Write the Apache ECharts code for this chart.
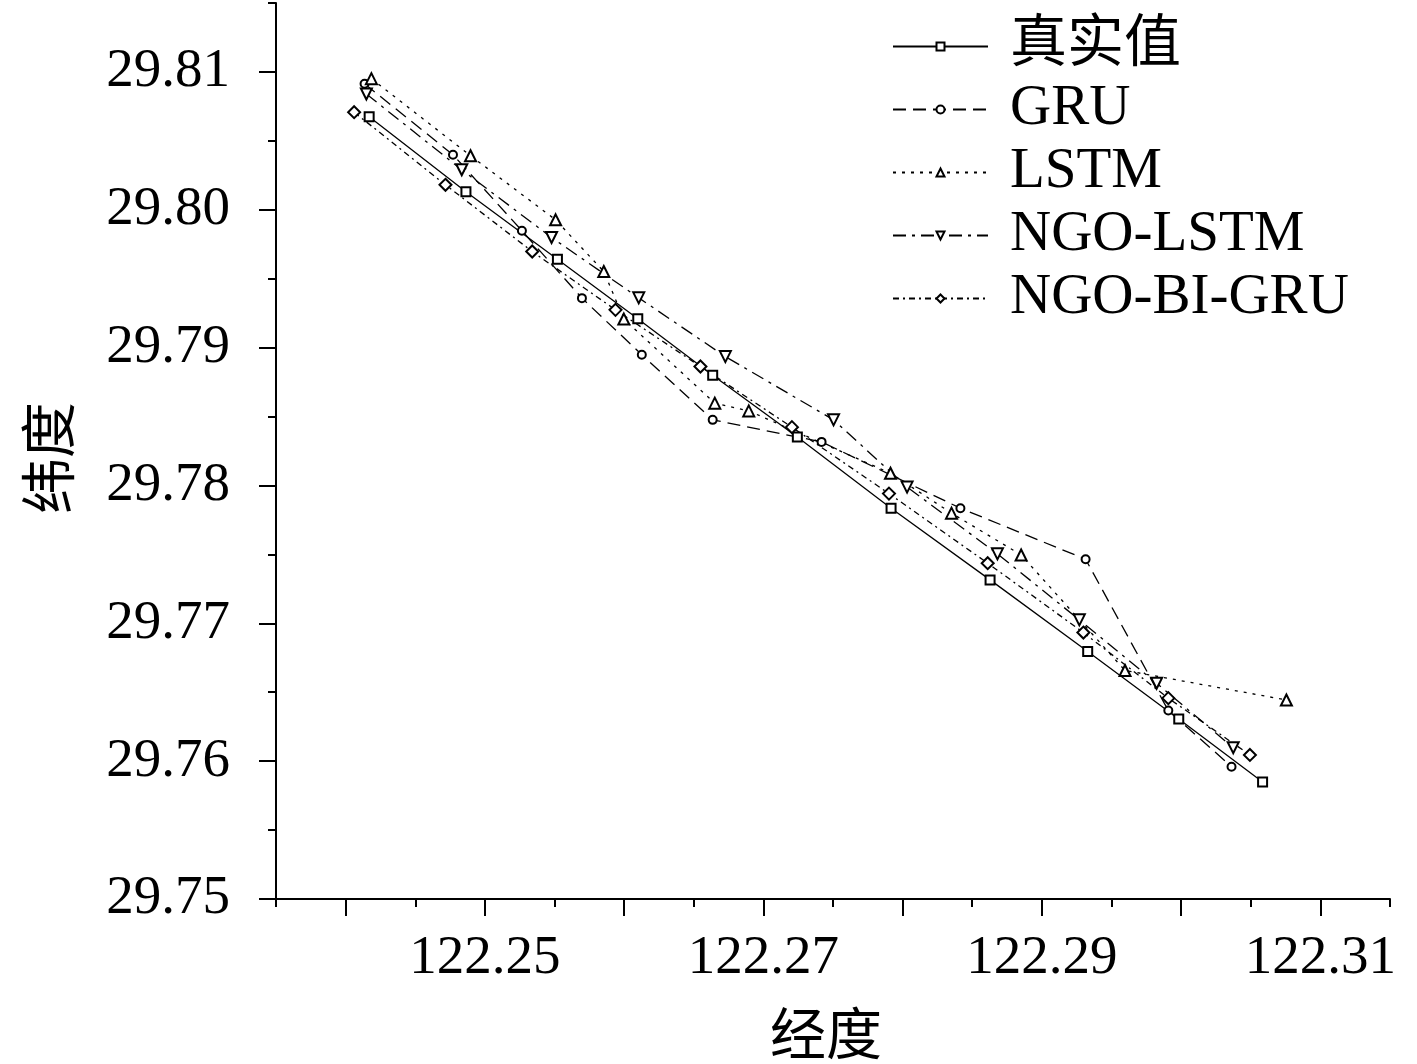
<!DOCTYPE html>
<html>
<head>
<meta charset="utf-8">
<script src="https://cdn.jsdelivr.net/npm/echarts@6/dist/echarts.min.js"></script>
<style>
html,body{margin:0;padding:0;background:#fff;}
#chart{width:1417px;height:1064px;}
</style>
</head>
<body>
<div id="chart"></div>
<script>
const seriesNames = ['真实值', 'GRU', 'LSTM', 'NGO-LSTM', 'NGO-BI-GRU'];
const xTickLabels = ['122.25', '122.27', '122.29', '122.31'];
const yTickLabels = ['29.75', '29.76', '29.77', '29.78', '29.79', '29.80', '29.81'];

const trueLon = [122.24169, 122.24864, 122.25521, 122.26098, 122.26636, 122.27244, 122.27917, 122.28628, 122.29329, 122.29983, 122.30585];
const trueLat = [29.80675, 29.80131, 29.79641, 29.79209, 29.78800, 29.78351, 29.77835, 29.77315, 29.76795, 29.76306, 29.75849];

const gruLon = [122.24136, 122.24771, 122.25266, 122.25697, 122.26127, 122.26636, 122.27418, 122.28415, 122.29314, 122.29908, 122.30362];
const gruLat = [29.80914, 29.80399, 29.79848, 29.79359, 29.78948, 29.78476, 29.78316, 29.77835, 29.77465, 29.76367, 29.75960];

const lstmLon = [122.24185, 122.24897, 122.25508, 122.25854, 122.25998, 122.26651, 122.26895, 122.27913, 122.28351, 122.28851, 122.29597, 122.30756];
const lstmLat = [29.80951, 29.80392, 29.79927, 29.79552, 29.79207, 29.78597, 29.78541, 29.78089, 29.77799, 29.77496, 29.76658, 29.76444];

const ngoLstmLon = [122.24149, 122.24834, 122.25479, 122.26105, 122.26727, 122.27504, 122.28032, 122.28681, 122.29269, 122.29824, 122.30374];
const ngoLstmLat = [29.80840, 29.80290, 29.79799, 29.79361, 29.78935, 29.78476, 29.77988, 29.77504, 29.77025, 29.76565, 29.76098];

const ngoBiGruLon = [122.24061, 122.24717, 122.25340, 122.25938, 122.26548, 122.27205, 122.27902, 122.28611, 122.29298, 122.29908, 122.30494];
const ngoBiGruLat = [29.80708, 29.80181, 29.79697, 29.79274, 29.78863, 29.78423, 29.77941, 29.77436, 29.76933, 29.76457, 29.76045];

function zip(a, b) { return a.map((v, i) => [v, b[i]]); }

const FONT = "'Liberation Serif', 'Times New Roman', 'Noto Sans CJK SC', serif";
const CJK = "'Noto Sans CJK SC', 'Liberation Serif', serif";

const chart = echarts.init(document.getElementById('chart'), null, {renderer: 'canvas'});

const common = {
  type: 'line',
  xAxisIndex: 0, yAxisIndex: 0,
  showAllSymbol: true,
  clip: false,
  itemStyle: {color: '#000', borderColor: '#000', borderWidth: 1.3},
  emphasis: {disabled: true}
};

const option = {
  animation: false,
  backgroundColor: '#fff',
  grid: [
    {left: 276, right: 27, top: 3, bottom: 165, containLabel: false, outerBoundsMode: 'none'},
    {left: 345.6, right: -42.6, top: 17, bottom: 165, containLabel: false, outerBoundsMode: 'none'},
    {left: 276, right: 27, top: -65.9, bottom: 165, containLabel: false, outerBoundsMode: 'none'}
  ],
  legend: {
    data: seriesNames,
    orient: 'vertical',
    left: 887,
    top: 13,
    itemWidth: 95,
    itemHeight: 10,
    itemGap: 6,
    align: 'left',
    textStyle: {fontFamily: FONT, fontSize: 57, lineHeight: 57, color: '#000', padding: [0, 0, 0, 17]}
  },
  xAxis: [
    {
      gridIndex: 0, type: 'value', min: 122.235, max: 122.315, interval: 0.005,
      axisLine: {show: true, onZero: false, lineStyle: {color: '#000', width: 2}},
      axisTick: {show: true, length: 8, lineStyle: {color: '#000', width: 2}},
      axisLabel: {show: false},
      splitLine: {show: false},
      name: '经度', nameLocation: 'middle', nameGap: 106,
      nameTextStyle: {fontFamily: CJK, fontSize: 56, color: '#000', padding: [0, 14, 0, 0]}
    },
    {
      gridIndex: 1, type: 'value', min: 122.24, max: 122.32, interval: 0.01,
      axisLine: {show: false, onZero: false},
      axisTick: {show: true, length: 17, lineStyle: {color: '#000', width: 2}},
      axisLabel: {
        show: true, margin: 32, fontFamily: FONT, fontSize: 55, color: '#000',
        formatter: function (v) { const s = v.toFixed(2); return xTickLabels.indexOf(s) >= 0 ? s : ''; }
      },
      splitLine: {show: false}
    },
    {gridIndex: 2, type: 'value', min: 122.235, max: 122.315, show: false}
  ],
  yAxis: [
    {
      gridIndex: 0, type: 'value', min: 29.75, max: 29.815, interval: 0.005,
      axisLine: {show: true, onZero: false, lineStyle: {color: '#000', width: 2}},
      axisTick: {show: true, length: 8, lineStyle: {color: '#000', width: 2}},
      axisLabel: {show: false},
      splitLine: {show: false}
    },
    {
      gridIndex: 1, type: 'value', min: 29.75, max: 29.815,
      axisLine: {show: false}, axisTick: {show: false}, axisLabel: {show: false}, splitLine: {show: false},
      name: '纬度', nameLocation: 'middle', nameGap: 270, nameRotate: 90,
      nameTextStyle: {fontFamily: CJK, fontSize: 56, color: '#000'}
    },
    {
      gridIndex: 2, type: 'value', min: 29.75, max: 29.82, interval: 0.01,
      axisLine: {show: false, onZero: false},
      axisTick: {show: true, length: 17, lineStyle: {color: '#000', width: 2}},
      axisLabel: {
        show: true, margin: 46, fontFamily: FONT, fontSize: 55, color: '#000',
        formatter: function (v) { const s = v.toFixed(2); return yTickLabels.indexOf(s) >= 0 ? s : ''; }
      },
      splitLine: {show: false}
    }
  ],
  series: [
    Object.assign({}, common, {
      name: seriesNames[0], data: zip(trueLon, trueLat),
      symbol: 'emptyRect', symbolSize: 9,
      lineStyle: {color: '#000', width: 1.3, type: 'solid'}
    }),
    Object.assign({}, common, {
      name: seriesNames[1], data: zip(gruLon, gruLat),
      symbol: 'emptyCircle', symbolSize: 8,
      lineStyle: {color: '#000', width: 1.3, type: [13, 7]}
    }),
    Object.assign({}, common, {
      name: seriesNames[2], data: zip(lstmLon, lstmLat),
      symbol: 'emptyTriangle', symbolSize: 11,
      lineStyle: {color: '#000', width: 1.3, type: [3, 6]}
    }),
    Object.assign({}, common, {
      name: seriesNames[3], data: zip(ngoLstmLon, ngoLstmLat),
      symbol: 'emptyTriangle', symbolRotate: 180, symbolSize: 11,
      lineStyle: {color: '#000', width: 1.3, type: [13, 6, 3, 6]}
    }),
    Object.assign({}, common, {
      name: seriesNames[4], data: zip(ngoBiGruLon, ngoBiGruLat),
      symbol: 'emptyDiamond', symbolSize: 12,
      lineStyle: {color: '#000', width: 1.3, type: [6, 4, 2, 4]}
    })
  ]
};
chart.setOption(option);
</script>
</body>
</html>
